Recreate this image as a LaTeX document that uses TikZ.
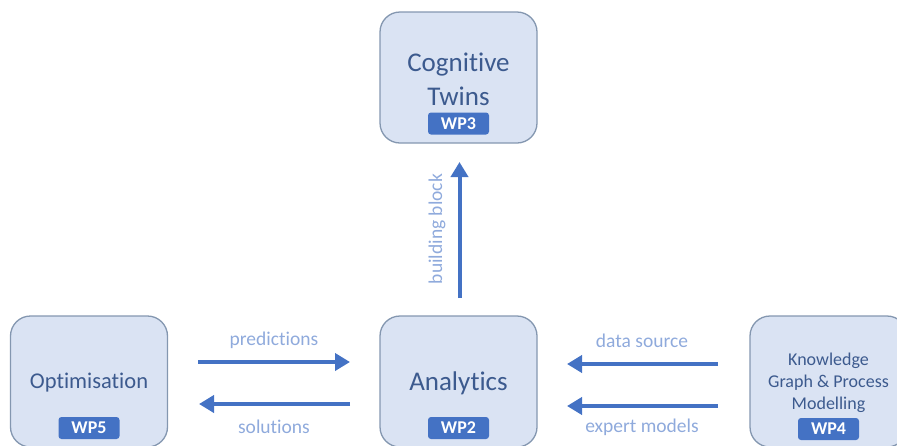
\documentclass[tikz,border=0pt]{standalone}
\usepackage{fontspec}
\setmainfont{Carlito}[RawFeature={-liga,-clig,-dlig,-calt,-rlig}]
\usetikzlibrary{arrows.meta}
\newcommand{\nolig}{\kern0pt{}}
\definecolor{boxfill}{HTML}{DAE3F3}
\definecolor{boxline}{HTML}{8497B0}
\definecolor{boxtext}{HTML}{3C5A8E}
\definecolor{badge}{HTML}{4472C4}
\definecolor{arrowc}{HTML}{4472C4}
\definecolor{labelc}{HTML}{8FAADC}
\tikzset{
  wpbox/.style={draw=boxline, fill=boxfill, line width=1.3pt, rounded corners=20pt,
    minimum width=157pt, minimum height=131pt, inner sep=0pt},
  wptext/.style={text=boxtext, align=center, inner sep=0pt},
  badgebox/.style={fill=badge, rounded corners=3pt, minimum width=61pt, minimum height=22pt,
    inner sep=0pt, text=white, font=\fontsize{18}{18}\selectfont\bfseries},
  flow/.style={draw=arrowc, line width=4pt, -{Triangle[length=15pt,width=17pt]}},
  flowlabel/.style={text=labelc, font=\fontsize{19.5}{20}\selectfont, inner sep=0pt}
}
\begin{document}
\begin{tikzpicture}[x=1pt,y=-1pt]
\useasboundingbox (0,0) rectangle (897,445);
\clip (0,0) rectangle (897,445);
% boxes
\node[wpbox] (ct) at (458.5,77.5) {};
\node[wpbox] (opt) at (89,381.5) {};
\node[wpbox] (ana) at (458.5,381.5) {};
\node[wpbox] (kg) at (828.5,381.5) {};
% texts
\node[wptext, font=\fontsize{27}{34}\selectfont] (ctt) at (458.5,79) {Cognit\nolig ive\\Twins};
\node[wptext, font=\fontsize{22.5}{27}\selectfont] (optt) at (89,383) {Opt\nolig imisat\nolig ion};
\node[wptext, font=\fontsize{27}{34}\selectfont] (anat) at (458.5,383) {Analyt\nolig ics};
\node[wptext, font=\fontsize{18}{22}\selectfont] (kgt) at (828.5,383) {Knowledge\\Graph \& Process\\Modelling};
% badges
\node[badgebox] (wp3) at (458.5,123.5) {WP3};
\node[badgebox] (wp5) at (89,428) {WP5};
\node[badgebox] (wp2) at (458.5,428) {WP2};
\node[badgebox] (wp4) at (828.5,429) {WP4};
% arrow anchors
\coordinate (p1) at (198,362);
\coordinate (p2) at (350,362);
\coordinate (s1) at (350,404);
\coordinate (s2) at (199,404);
\coordinate (d1) at (718,364);
\coordinate (d2) at (567,364);
\coordinate (e1) at (718,406);
\coordinate (e2) at (567,406);
\coordinate (b1) at (459.5,298);
\coordinate (b2) at (459.5,162);
\draw[flow] (p1) -- (p2);
\draw[flow] (s1) -- (s2);
\draw[flow] (d1) -- (d2);
\draw[flow] (e1) -- (e2);
\draw[flow] (b1) -- (b2);
% labels
\node[flowlabel] (lp) at (274,340) {predict\nolig ions};
\node[flowlabel] (ls) at (274,427) {solut\nolig ions};
\node[flowlabel] (ld) at (642,341) {data source};
\node[flowlabel] (le) at (642,427) {expert models};
\node[flowlabel, rotate=90] (lb) at (437,229) {building block};
\end{tikzpicture}
\end{document}
